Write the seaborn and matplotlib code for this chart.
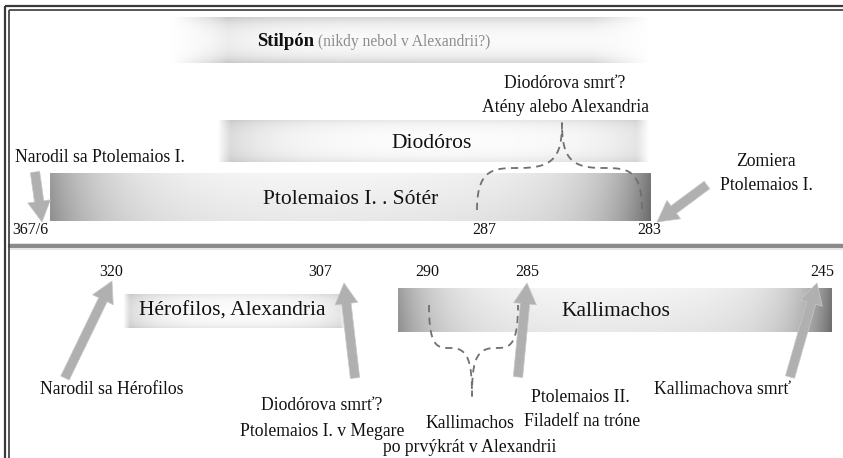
import numpy as np
import matplotlib
matplotlib.use("Agg")
import matplotlib.pyplot as plt
import seaborn as sns

# ---- data (positions, in picture units) ----
# upper band
top_names = ["Stilpón", "Diodóros", "Ptolemaios I. . Sótér"]
top_left = [170, 217, 50]
top_right = [650, 650, 651]
top_mid = [40, 141, 197]
top_height = [46, 42, 48]
top_style = ["halo", "light", "dark"]

top_years = ["367/6", "287", "283"]
top_year_x = [30, 484, 649]

# lower band
low_names = ["Hérofilos, Alexandria", "Kallimachos"]
low_left = [123, 398]
low_right = [347, 832]
low_mid = [311, 310]
low_height = [34, 44]
low_style = ["light", "dark"]

low_years = ["320", "307", "290", "285", "245"]
low_year_x = [111, 320, 427, 527, 822]

# arrows: tail -> tip
arrow_tail = [(35, 172), (707, 185), (65, 378), (355, 378), (518, 377), (790, 377)]
arrow_tip = [(42, 222), (657, 222), (112, 281), (344, 283), (527, 283), (817, 283)]

# labels
label_text = ["Narodil sa Ptolemaios I.", "Zomiera", "Ptolemaios I.",
              "Diodórova smrť?", "Atény alebo Alexandria",
              "Narodil sa Hérofilos", "Diodórova smrť?", "Ptolemaios I. v Megare",
              "Ptolemaios II.", "Filadelf na tróne", "Kallimachova smrť",
              "Kallimachos", "po prvýkrát v Alexandrii"]
label_x = [100, 766, 766, 565, 565, 112, 322, 322, 580, 582, 722, 470, 470]
label_y = [157, 161, 186, 83, 108, 389, 405, 431, 397, 422, 390, 423, 448]

# dashed braces: left end, tip, right end, base y, shoulder y, tip y
brace_left = [477, 429]
brace_tip = [562, 472]
brace_right = [642, 518]
brace_base = [210, 305]
brace_shoulder = [168, 348]
brace_tipy = [123, 396]

W, H = 843, 458

sns.set_theme(style="white")
plt.rcParams["font.family"] = ["Liberation Serif", "DejaVu Serif"]

fig = plt.figure(figsize=(W / 100, H / 100), dpi=100)
ax = fig.add_axes([0, 0, 1, 1], frame_on=False)
ax.set_xlim(0, W)
ax.set_ylim(H, 0)
ax.axis("off")


def bar_image(style, n=200, m=50):
    t = np.linspace(0, 1, n)[None, :]
    s = np.linspace(0, 1, m)[:, None]
    rgba = np.ones((m, n, 4))
    if style == "dark":
        g = (0.98 - 0.36 * np.exp(-t / 0.1) - 0.42 * np.exp(-(1 - t) / 0.075)
             - 0.08 * np.exp(-(1 - t) / 0.3) - 0.05 * s)
        a = np.ones_like(g)
    elif style == "light":
        g = (1.0 - 0.17 * np.exp(-t / 0.12) - 0.12 * np.exp(-(1 - t) / 0.12)
             - 0.08 * (np.exp(-s / 0.15) + np.exp(-(1 - s) / 0.15)))
        a = np.clip(np.minimum(t, 1 - t) / 0.03, 0, 1) * np.ones_like(s)
    else:
        g = 1.0 - 0.16 * (np.exp(-s / 0.18) + np.exp(-(1 - s) / 0.18)) * np.ones_like(t)
        g = g - 0.05 * np.exp(-np.abs(t - 0.12) / 0.08)
        a = np.clip(np.minimum(t, 1 - t) / 0.12, 0, 1) * np.ones_like(s)
    g = np.clip(g, 0, 1)
    rgba[..., 0] = g
    rgba[..., 1] = g
    rgba[..., 2] = g
    rgba[..., 3] = a
    return rgba


def draw_bars(left, right, mid, height, style):
    for x0, x1, yc, h, st in zip(left, right, mid, height, style):
        ax.imshow(bar_image(st), extent=(x0, x1, yc + h / 2, yc - h / 2),
                  interpolation="bilinear", aspect="auto", zorder=1)


draw_bars(top_left, top_right, top_mid, top_height, top_style)
draw_bars(low_left, low_right, low_mid, low_height, low_style)

# frame: double line on top and left only
for off, lw in [(6, 1.6), (9.5, 1.2)]:
    ax.plot([off - 1, W + 5], [off, off], color="#3a3a3a", lw=lw, zorder=5,
            solid_capstyle="butt")
    ax.plot([off - 1, off - 1], [off, H + 5], color="#3a3a3a", lw=lw, zorder=5,
            solid_capstyle="butt")

# separator between the two periods
sns.lineplot(x=[10, W + 5], y=[246, 246], color="#8a8a8a", linewidth=3.2, ax=ax, zorder=4)
sns.lineplot(x=[10, W + 5], y=[249, 249], color="#e6e6e6", linewidth=1.5, ax=ax, zorder=4)

# bar titles
ax.text(257, 41, "Stilpón", fontsize=13.5, fontweight="bold", color="#111111",
        ha="left", va="center", zorder=6)
ax.text(318, 42, "(nikdy nebol v Alexandrii?)", fontsize=11.2, color="#8c8c8c",
        ha="left", va="center", zorder=6)
ax.text(432, 143, top_names[1], fontsize=15.5, color="#111111", ha="center", va="center", zorder=6)
ax.text(351, 199, top_names[2], fontsize=15.5, color="#111111", ha="center", va="center", zorder=6)
ax.text(232, 311, low_names[0], fontsize=15.5, color="#111111", ha="center", va="center", zorder=6)
ax.text(616, 311, low_names[1], fontsize=15.5, color="#111111", ha="center", va="center", zorder=6)

# year ticks
for lab, x in zip(top_years, top_year_x):
    ax.text(x, 230, lab, fontsize=11.5, color="#111111", ha="center", va="center", zorder=6)
for lab, x in zip(low_years, low_year_x):
    ax.text(x, 272, lab, fontsize=11.5, color="#111111", ha="center", va="center", zorder=6)

# labels
for lab, x, y in zip(label_text, label_x, label_y):
    ax.text(x, y, lab, fontsize=12.7, color="#111111", ha="center", va="center", zorder=6)

# arrows
for tail, tip in zip(arrow_tail, arrow_tip):
    ax.annotate("", xy=tip, xytext=tail, zorder=7,
                arrowprops=dict(arrowstyle="simple,head_length=1.0,head_width=1.1,tail_width=0.45",
                                mutation_scale=15, fc="#b0b0b0", ec="#c8c8c8", lw=0.5,
                                shrinkA=0, shrinkB=0))


# dashed braces
def bezier(p0, p1, p2, p3, n=30):
    u = np.linspace(0, 1, n)[:, None]
    pts = ((1 - u) ** 3 * np.array(p0) + 3 * (1 - u) ** 2 * u * np.array(p1)
           + 3 * (1 - u) * u ** 2 * np.array(p2) + u ** 3 * np.array(p3))
    return pts


for xl, xt, xr, yb, ysh, ytp in zip(brace_left, brace_tip, brace_right,
                                     brace_base, brace_shoulder, brace_tipy):
    ml = (xl + xt) / 2
    mr = (xr + xt) / 2
    seg = [
        bezier((xl, yb), (xl, ysh), (xl + 0.2 * (xt - xl), ysh), (ml, ysh)),
        bezier((ml, ysh), (xt - 0.1 * (xt - xl), ysh), (xt, ysh + 0.25 * (ytp - ysh)), (xt, ytp)),
        bezier((xt, ytp), (xt, ysh + 0.25 * (ytp - ysh)), (xt + 0.1 * (xr - xt), ysh), (mr, ysh)),
        bezier((mr, ysh), (xr - 0.2 * (xr - xt), ysh), (xr, ysh), (xr, yb)),
    ]
    pts = np.vstack(seg)
    sns.lineplot(x=pts[:, 0], y=pts[:, 1], sort=False, estimator=None, ax=ax,
                 color="#707070", linewidth=1.3, linestyle=(0, (4, 3)), zorder=3)

ax.set_xlim(0, W)
ax.set_ylim(H, 0)
ax.axis("off")
fig.savefig("out.png", dpi=100, facecolor="white", edgecolor="white")
